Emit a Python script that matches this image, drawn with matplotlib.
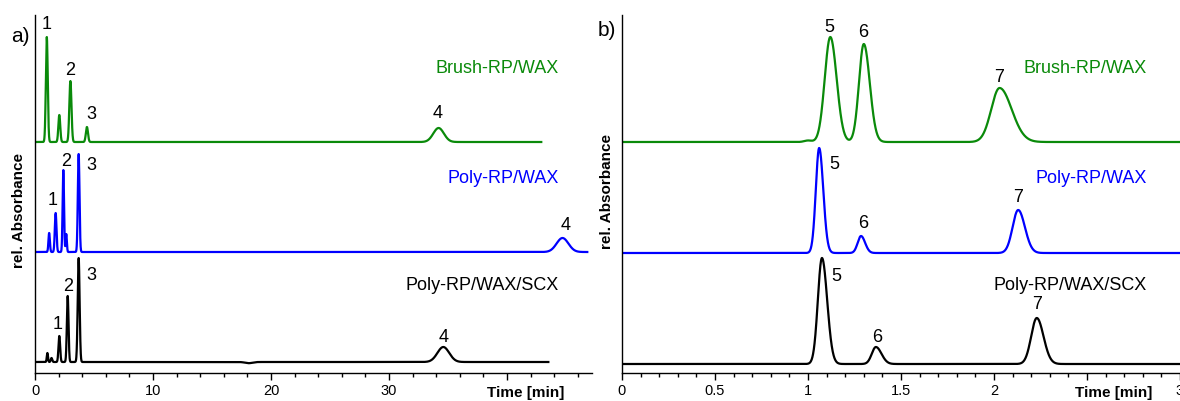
import matplotlib

matplotlib.use("Agg")
import matplotlib.pyplot as plt
import matplotlib.transforms as mtransforms
from matplotlib.ticker import MultipleLocator, FuncFormatter
import numpy as np

plt.rcParams["font.family"] = ["Liberation Sans", "DejaVu Sans"]

GREEN = "#0a8a0a"
BLUE = "#0000ff"
BLACK = "#000000"

# ---------------- panel a: peaks (time [min], height, sigma) ----------------
A_END = [42.9, 46.8, 43.5]            # where each trace stops
A_BASE = [231, 121, 11]               # vertical offsets of the traces

A_GREEN_T = [1.0, 2.06, 3.0, 4.4, 34.2]
A_GREEN_H = [105, 27, 61, 15, 14]
A_GREEN_S = [0.08, 0.08, 0.09, 0.09, 0.45]

A_BLUE_T = [1.2, 1.75, 2.4, 2.65, 3.7, 44.7]
A_BLUE_H = [19, 39, 82, 18, 98, 14]
A_BLUE_S = [0.06, 0.07, 0.06, 0.05, 0.07, 0.5]

A_BLACK_T = [1.05, 1.4, 2.06, 2.77, 3.7, 18.1, 34.6]
A_BLACK_H = [9, 4, 26, 66, 104, -1.2, 15]
A_BLACK_S = [0.05, 0.06, 0.07, 0.07, 0.08, 0.3, 0.5]

A_LABELS = ["1", "2", "3", "4", "1", "2", "3", "4", "1", "2", "3", "4"]
A_LABEL_T = [1.0, 3.0, 4.8, 34.1, 1.5, 2.6, 4.8, 45.0, 1.95, 2.8, 4.8, 34.6]
A_LABEL_Y = [344, 298, 254, 255, 168, 207, 203, 143, 44, 82, 93, 31]

# ---------------- panel b: peaks (time [min], height, sigma left/right) ----------------
B_END = [3.0, 3.0, 3.0]
B_BASE = [231, 120, 9]

B_GREEN_T = [1.0, 1.12, 1.30, 2.03]
B_GREEN_H = [1.5, 105, 98, 54]
B_GREEN_SL = [0.02, 0.030, 0.026, 0.045]
B_GREEN_SR = [0.02, 0.034, 0.032, 0.065]

B_BLUE_T = [1.06, 1.285, 2.13]
B_BLUE_H = [105, 17, 43]
B_BLUE_SL = [0.018, 0.018, 0.030]
B_BLUE_SR = [0.022, 0.022, 0.036]

B_BLACK_T = [1.075, 1.365, 2.23]
B_BLACK_H = [106, 17, 46]
B_BLACK_SL = [0.022, 0.022, 0.030]
B_BLACK_SR = [0.028, 0.030, 0.036]

B_LABELS = ["5", "6", "7", "5", "6", "7", "5", "6", "7"]
B_LABEL_T = [1.113, 1.296, 2.027, 1.14, 1.296, 2.129, 1.15, 1.371, 2.231]
B_LABEL_Y = [341, 336, 291, 204, 145, 171, 92, 31, 64]

COLUMN_NAMES = ["Brush-RP/WAX", "Poly-RP/WAX", "Poly-RP/WAX/SCX"]
COLUMN_COLORS = [GREEN, BLUE, BLACK]
COLUMN_Y = [300, 190, 83]


def trace(t, centers, heights, sig_l, sig_r=None):
    if sig_r is None:
        sig_r = sig_l
    y = np.zeros_like(t)
    for c, h, sl, sr in zip(centers, heights, sig_l, sig_r):
        s = np.where(t < c, sl, sr)
        y += h * np.exp(-0.5 * ((t - c) / s) ** 2)
    return y


def style_axis(ax, xmax, major, minor, hide_label):
    ax.set_xlim(0, xmax)
    ax.set_ylim(0, 358)
    ax.spines["top"].set_visible(False)
    ax.spines["right"].set_visible(False)
    for sp in ("left", "bottom"):
        ax.spines[sp].set_linewidth(1.0)
    ax.set_yticks([])
    ax.xaxis.set_major_locator(MultipleLocator(major))
    ax.xaxis.set_minor_locator(MultipleLocator(minor))
    ax.xaxis.set_major_formatter(FuncFormatter(
        lambda v, p: "" if abs(v - hide_label) < 1e-9 else f"{v:g}"))
    ax.tick_params(axis="x", which="major", direction="out", length=5,
                   width=1.0, labelsize=10.5, pad=3)
    ax.tick_params(axis="x", which="minor", direction="out", length=3,
                   width=1.0)
    ax.patch.set_alpha(0)
    # axis title sits where the hidden tick label would be
    tr = mtransforms.blended_transform_factory(ax.transAxes, ax.transData)
    ax.text(0.812, -20, "Time [min]", transform=tr, ha="left", va="center",
            fontsize=11, fontweight="bold", clip_on=False)


fig = plt.figure(figsize=(11.8, 4.01), dpi=100)
ax_a = fig.add_axes([35 / 1180, 28 / 401, 557 / 1180, 358 / 401])
ax_b = fig.add_axes([622 / 1180, 28 / 401, 558 / 1180, 358 / 401])

# --- panel a ---
a_sets = [(A_GREEN_T, A_GREEN_H, A_GREEN_S), (A_BLUE_T, A_BLUE_H, A_BLUE_S),
          (A_BLACK_T, A_BLACK_H, A_BLACK_S)]
for (tc, hh, ss), end, base, col in zip(a_sets, A_END, A_BASE, COLUMN_COLORS):
    t = np.linspace(0, end, 6000)
    ax_a.plot(t, base + trace(t, tc, hh, ss), color=col, lw=1.6,
              solid_joinstyle="round")
for lab, tx, ty in zip(A_LABELS, A_LABEL_T, A_LABEL_Y):
    ax_a.text(tx, ty, lab, ha="center", va="baseline", fontsize=13, color="black")
for name, col, y in zip(COLUMN_NAMES, COLUMN_COLORS, COLUMN_Y):
    ax_a.text(44.4, y, name, ha="right", va="baseline", fontsize=13, color=col)
style_axis(ax_a, 47.2, 10, 2, 40)

# --- panel b ---
b_sets = [(B_GREEN_T, B_GREEN_H, B_GREEN_SL, B_GREEN_SR),
          (B_BLUE_T, B_BLUE_H, B_BLUE_SL, B_BLUE_SR),
          (B_BLACK_T, B_BLACK_H, B_BLACK_SL, B_BLACK_SR)]
for (tc, hh, sl, sr), end, base, col in zip(b_sets, B_END, B_BASE, COLUMN_COLORS):
    t = np.linspace(0, end, 6000)
    ax_b.plot(t, base + trace(t, tc, hh, sl, sr), color=col, lw=1.6,
              solid_joinstyle="round")
for lab, tx, ty in zip(B_LABELS, B_LABEL_T, B_LABEL_Y):
    ax_b.text(tx, ty, lab, ha="center", va="baseline", fontsize=13, color="black")
for name, col, y in zip(COLUMN_NAMES, COLUMN_COLORS, COLUMN_Y):
    ax_b.text(2.82, y, name, ha="right", va="baseline", fontsize=13, color=col)
style_axis(ax_b, 3.0, 0.5, 0.1, 2.5)

# panel letters and y labels
fig.text(30 / 1180, 1 - 36 / 401, "a)", ha="right", va="center", fontsize=15)
fig.text(616 / 1180, 1 - 31 / 401, "b)", ha="right", va="center", fontsize=15)
fig.text(19 / 1180, 1 - 210 / 401, "rel. Absorbance", rotation=90,
         ha="center", va="center", fontsize=11, fontweight="bold")
fig.text(607 / 1180, 1 - 192 / 401, "rel. Absorbance", rotation=90,
         ha="center", va="center", fontsize=11, fontweight="bold")

fig.savefig("out.png", dpi=100)
